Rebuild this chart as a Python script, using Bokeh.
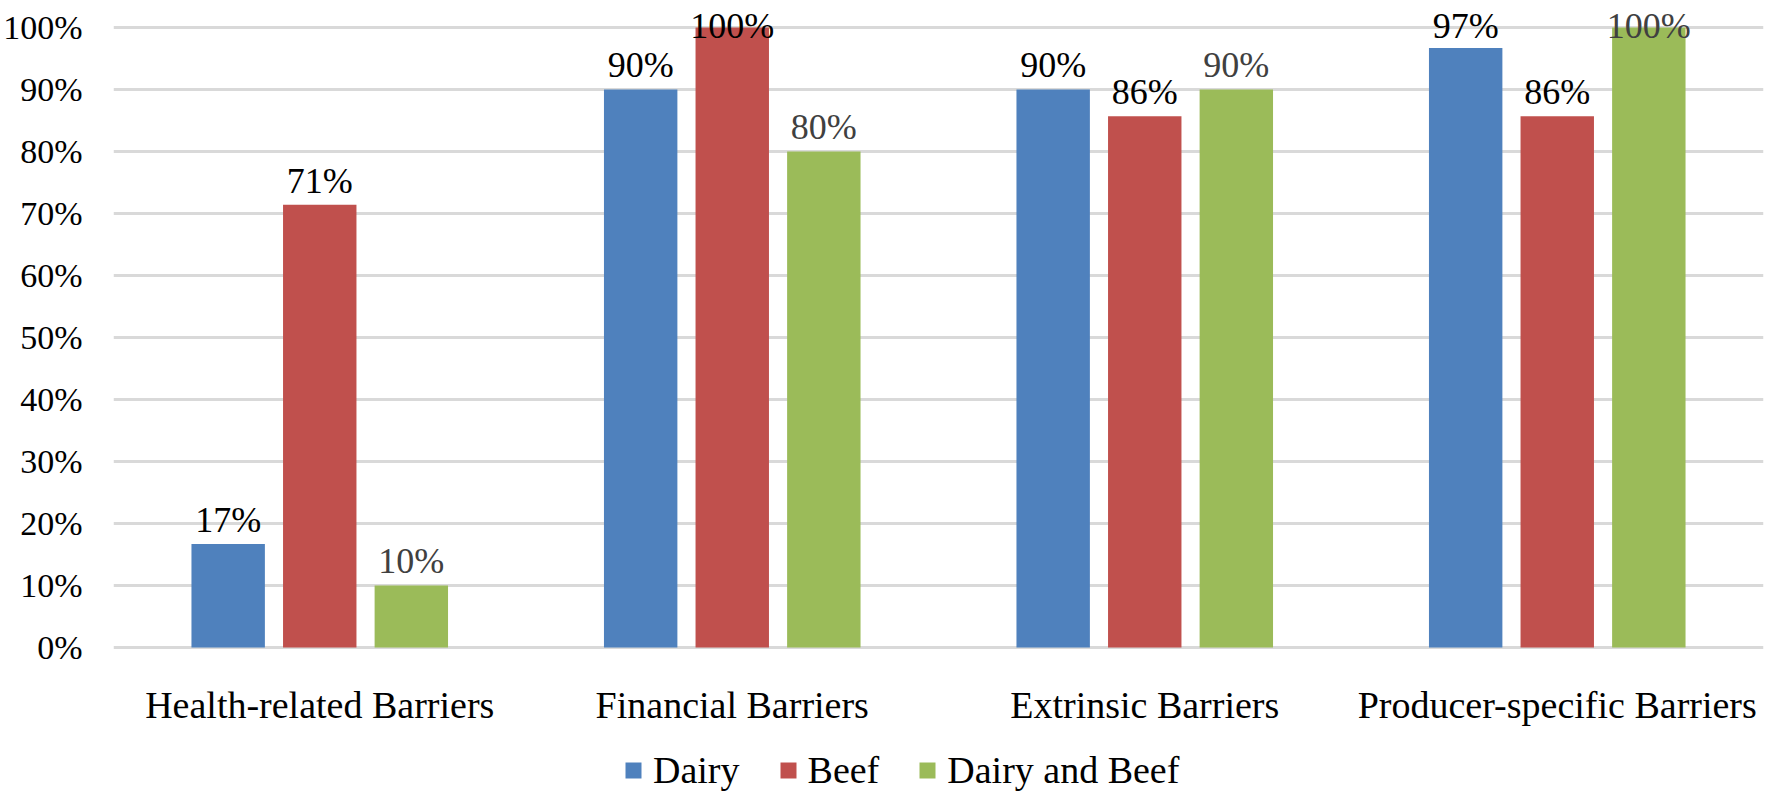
from bokeh.plotting import figure
from bokeh.models import (ColumnDataSource, FactorRange, Range1d, FixedTicker,
                          Legend, LegendItem)
from bokeh.transform import dodge
from bokeh.core.properties import value
from bokeh.embed import file_html
from bokeh.resources import INLINE
import numpy as np

# ---------------- data ----------------
categories = ["Health-related Barriers", "Financial Barriers",
              "Extrinsic Barriers", "Producer-specific Barriers"]
series_names = ["Dairy", "Beef", "Dairy and Beef"]
dairy = [16.7, 90.0, 90.0, 96.7]
beef = [71.4, 100.0, 85.7, 85.7]
dairy_beef = [10.0, 80.0, 90.0, 100.0]
y_ticks = [0, 10, 20, 30, 40, 50, 60, 70, 80, 90, 100]
y_tick_labels = ["0%", "10%", "20%", "30%", "40%", "50%", "60%", "70%",
                 "80%", "90%", "100%"]

# ---------------- styling ----------------
FONT = "Liberation Serif"
colors = ["#4F81BD", "#C0504D", "#9BBB59"]
label_colors = ["#000000", "#000000", "#404040"]
offsets = [-0.222, 0.0, 0.222]
bar_w = 0.178
label_gap = 3.9       # gap between bar top and label baseline (in % units)
label_cap = 100.3     # labels are kept inside the chart area
y_min, y_max = -24.03, 104.35
cat_label_y = -9.35   # baseline of the category labels under the zero line
grid_col = "#D9D9D9"

series = [dairy, beef, dairy_beef]
keys = ["dairy", "beef", "dairy_beef"]

data = {"cat": categories, "cat_y": [cat_label_y] * len(categories)}
for k, vals in zip(keys, series):
    arr = np.array(vals, dtype=float)
    data[k] = arr
    data[k + "_ly"] = np.minimum(arr + label_gap, label_cap)
    data[k + "_txt"] = [f"{int(round(v))}%" for v in vals]
source = ColumnDataSource(data)

p = figure(x_range=FactorRange(*categories, range_padding=0, factor_padding=0),
           y_range=Range1d(y_min, y_max),
           frame_width=1650, frame_height=796,
           min_border_top=0, min_border_left=104, min_border_right=5,
           min_border_bottom=0,
           output_backend="svg", toolbar_location=None,
           background_fill_color="white", border_fill_color="white",
           outline_line_color=None)

renderers = []
for k, col, off, lcol in zip(keys, colors, offsets, label_colors):
    r = p.vbar(x=dodge("cat", off, range=p.x_range), top=k, width=bar_w,
               bottom=0, source=source, fill_color=col, line_color=None)
    renderers.append(r)
    p.text(x=dodge("cat", off, range=p.x_range), y=k + "_ly", text=k + "_txt",
           source=source, text_font=value(FONT), text_font_size="36px",
           text_color=lcol, text_align="center", text_baseline="alphabetic")

# category labels under the zero line
p.text(x="cat", y="cat_y", text="cat", source=source,
       text_font=value(FONT), text_font_size="38px", text_color="#000000",
       text_align="center", text_baseline="alphabetic")

# grid
p.xgrid.grid_line_color = None
p.ygrid.ticker = FixedTicker(ticks=y_ticks)
p.ygrid.grid_line_color = grid_col
p.ygrid.grid_line_width = 3

# x axis (labels drawn as text under the zero line)
p.xaxis.visible = False

# y axis
p.yaxis.ticker = FixedTicker(ticks=y_ticks)
p.yaxis.major_label_overrides = {t: l for t, l in zip(y_ticks, y_tick_labels)}
p.yaxis.axis_line_color = None
p.yaxis.major_tick_line_color = None
p.yaxis.minor_tick_line_color = None
p.yaxis.major_label_standoff = 25
p.yaxis.major_label_text_font = FONT
p.yaxis.major_label_text_font_size = "34px"
p.yaxis.major_label_text_color = "#000000"

legend = Legend(items=[LegendItem(label=n, renderers=[r])
                       for n, r in zip(series_names, renderers)],
                orientation="horizontal", location=(510, 4),
                glyph_width=20, glyph_height=20, label_standoff=10, spacing=38,
                padding=0, margin=0, border_line_color=None,
                background_fill_alpha=0,
                label_text_font_size="38px",
                label_text_color="#000000")
try:
    legend.label_text_font = value(FONT)
except Exception:
    legend.label_text_font = FONT
p.add_layout(legend, "center")

open("out.html", "w").write(file_html(p, INLINE))
